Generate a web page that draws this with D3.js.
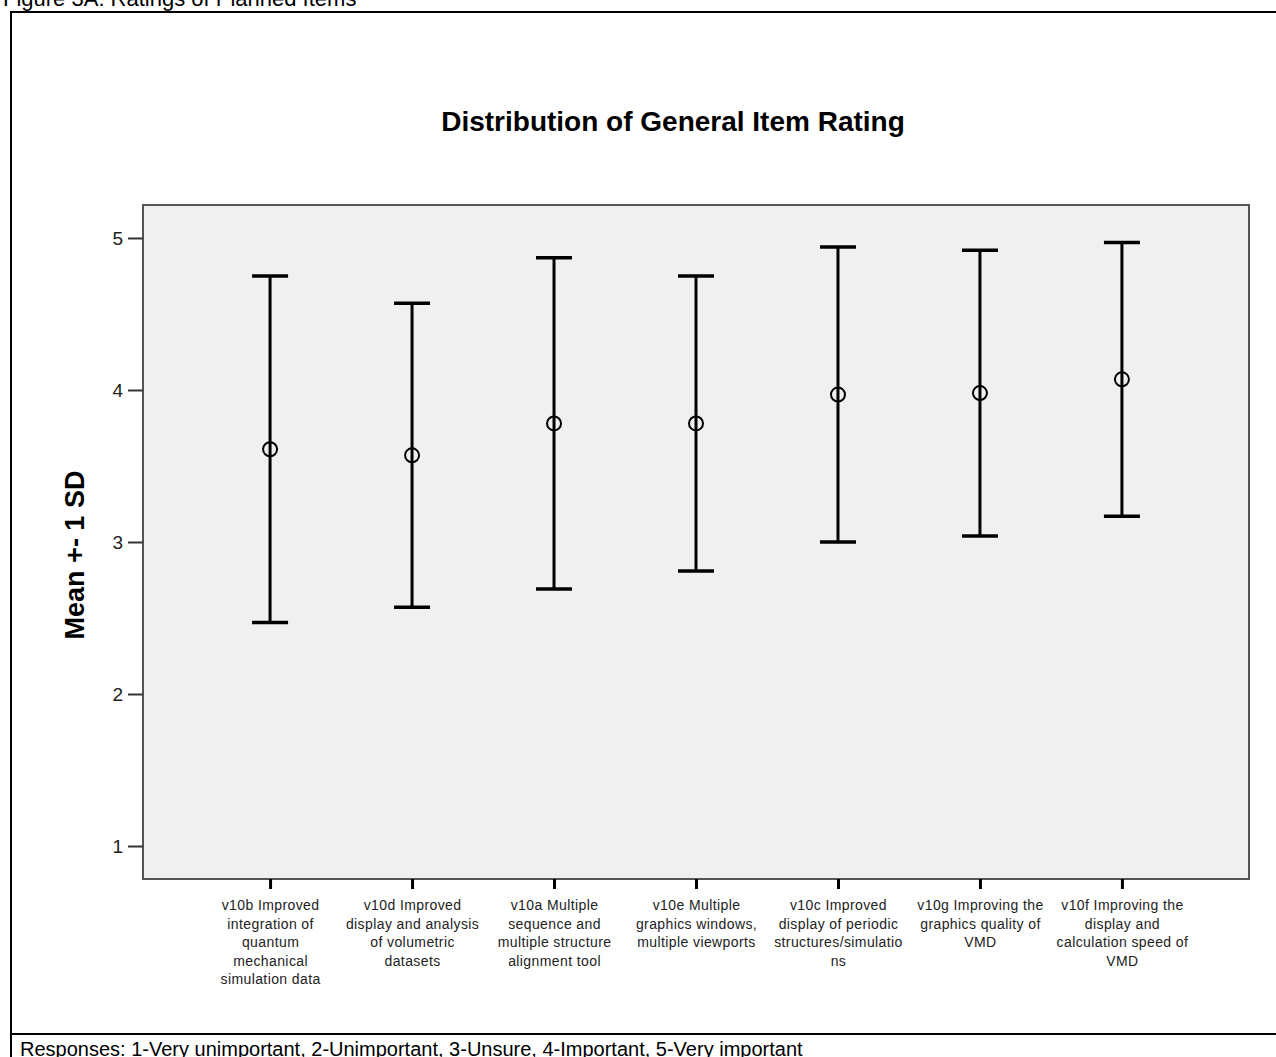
<!DOCTYPE html>
<html>
<head>
<meta charset="utf-8">
<script src="https://cdn.jsdelivr.net/npm/d3@7"></script>
<style>
  body { margin: 0; background: #fff; }
  svg { display: block; font-family: "Liberation Sans", Arial, sans-serif; }
</style>
</head>
<body>
<div id="chart"></div>
<script>
// item codes, wrapped tick labels, mean and SD
var items = ['v10b', 'v10d', 'v10a', 'v10e', 'v10c', 'v10g', 'v10f']
var itemLabels = [
    ['v10b Improved', 'integration of', 'quantum', 'mechanical', 'simulation data'],
    ['v10d Improved', 'display and analysis', 'of volumetric', 'datasets'],
    ['v10a Multiple', 'sequence and', 'multiple structure', 'alignment tool'],
    ['v10e Multiple', 'graphics windows,', 'multiple viewports'],
    ['v10c Improved', 'display of periodic', 'structures/simulatio', 'ns'],
    ['v10g Improving the', 'graphics quality of', 'VMD'],
    ['v10f Improving the', 'display and', 'calculation speed of', 'VMD']
]
var means = [3.61, 3.57, 3.78, 3.78, 3.97, 3.98, 4.07]
var sds = [1.14, 1.00, 1.09, 0.97, 0.97, 0.94, 0.90]
var yTicks = [1, 2, 3, 4, 5]

var width = 1276
var height = 1057
var plot = { left: 143, top: 205, right: 1249, bottom: 879 }

var svg = d3.select('#chart').append('svg')
    .attr('width', width)
    .attr('height', height)

// page frame around the figure (table cell)
svg.append('path')
    .attr('d', 'M11,' + (height + 5) + 'V12H' + (width + 5))
    .attr('fill', 'none')
    .attr('stroke', '#000')
    .attr('stroke-width', 2)
svg.append('line')
    .attr('x1', 11).attr('x2', width + 5)
    .attr('y1', 1034).attr('y2', 1034)
    .attr('stroke', '#000')
    .attr('stroke-width', 2)

svg.append('text')
    .attr('x', 3)
    .attr('y', 6)
    .attr('font-size', 22)
    .text('Figure 3A:  Ratings of Planned Items')

svg.append('text')
    .attr('x', 20)
    .attr('y', 1056)
    .attr('font-size', 20)
    .text('Responses: 1-Very unimportant, 2-Unimportant, 3-Unsure, 4-Important, 5-Very important')

var x = d3.scalePoint()
    .domain(items)
    .range([plot.left, plot.right])
    .padding(0.895)

var y = d3.scaleLinear()
    .domain([0.783, 5.217])
    .range([plot.bottom, plot.top])

// grey plot background
svg.append('rect')
    .attr('x', plot.left)
    .attr('y', plot.top)
    .attr('width', plot.right - plot.left)
    .attr('height', plot.bottom - plot.top)
    .attr('fill', '#f0f0f0')
    .attr('stroke', '#555')
    .attr('stroke-width', 2)

svg.append('text')
    .attr('x', 673)
    .attr('y', 131)
    .attr('text-anchor', 'middle')
    .attr('font-size', 28)
    .attr('font-weight', 'bold')
    .text('Distribution of General Item Rating')

// y axis
var yAxis = svg.append('g')
    .attr('transform', 'translate(' + plot.left + ',0)')
    .call(d3.axisLeft(y).tickValues(yTicks).tickSize(15).tickPadding(5).tickFormat(d3.format('d')))
yAxis.select('.domain').remove()
yAxis.selectAll('.tick line').attr('stroke', '#333').attr('stroke-width', 2)
yAxis.selectAll('.tick text')
    .attr('font-size', 19)
    .attr('font-family', '"Liberation Sans", Arial, sans-serif')
    .attr('fill', '#222')

svg.append('text')
    .attr('transform', 'translate(84,555) rotate(-90)')
    .attr('text-anchor', 'middle')
    .attr('font-size', 27)
    .attr('font-weight', 'bold')
    .text('Mean +- 1 SD')

// x axis ticks and wrapped labels
var xAxis = svg.append('g')
    .attr('transform', 'translate(0,' + plot.bottom + ')')
    .call(d3.axisBottom(x).tickSize(10).tickFormat(''))
xAxis.select('.domain').remove()
xAxis.selectAll('.tick line').attr('stroke', '#000').attr('stroke-width', 3)

xAxis.selectAll('.tick').each(function (d, i) {
    var t = d3.select(this).append('text')
        .attr('text-anchor', 'middle')
        .attr('font-size', 14)
        .attr('letter-spacing', 0.4)
        .attr('fill', '#222')
    itemLabels[i].forEach(function (line, j) {
        t.append('tspan')
            .attr('x', 0)
            .attr('y', 31 + j * 18.5)
            .text(line)
    })
})

// error bars: mean +- 1 SD
var bars = svg.append('g').selectAll('g')
    .data(items)
    .join('g')
    .attr('transform', function (d) { return 'translate(' + x(d) + ',0)' })

bars.append('line')
    .attr('y1', function (d, i) { return y(means[i] - sds[i]) })
    .attr('y2', function (d, i) { return y(means[i] + sds[i]) })
    .attr('stroke', '#000')
    .attr('stroke-width', 3)

bars.selectAll('line.cap')
    .data(function (d, i) { return [means[i] - sds[i], means[i] + sds[i]] })
    .join('line')
    .attr('class', 'cap')
    .attr('x1', -18)
    .attr('x2', 18)
    .attr('y1', function (v) { return y(v) })
    .attr('y2', function (v) { return y(v) })
    .attr('stroke', '#000')
    .attr('stroke-width', 3.5)

bars.append('circle')
    .attr('cy', function (d, i) { return y(means[i]) })
    .attr('r', 7)
    .attr('fill', 'none')
    .attr('stroke', '#000')
    .attr('stroke-width', 2)
</script>
</body>
</html>
